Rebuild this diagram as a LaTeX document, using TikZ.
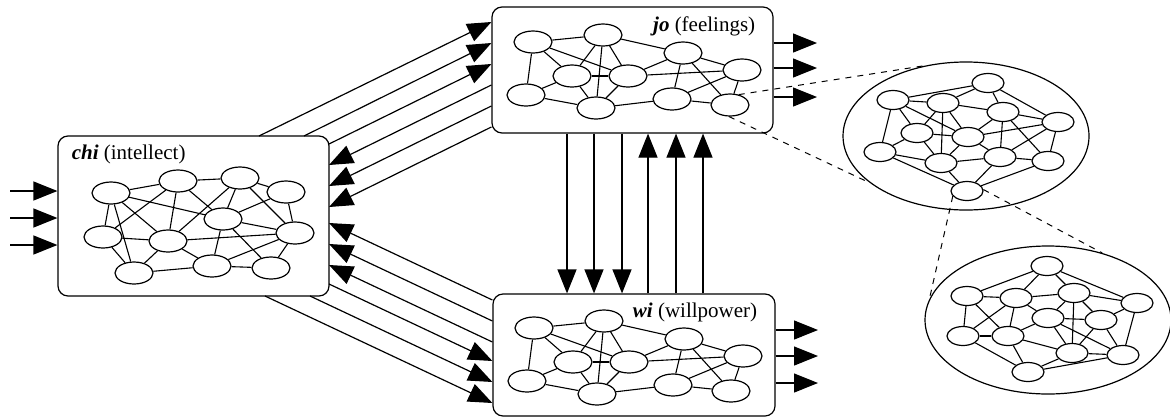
\documentclass[tikz,border=0pt]{standalone}
\usepackage{fontspec}
\setmainfont{Liberation Serif}
\usetikzlibrary{arrows.meta,shapes.geometric,fit,calc}

% one network, used for jo and for wi
\newcommand{\feelnet}[1]{%
  \foreach \n/\cx/\cy in {1/533/42, 2/603/35, 3/683/53, 4/572/76, 5/628/76,
      6/742/70, 7/526/95, 8/596/108, 9/672/99, 10/730/105}
    \node[cell] (#1\n) at (\cx,\cy) {};
  \foreach \a/\b in {1/2,1/7,1/4,1/5,2/4,2/8,2/5,2/3,4/5,4/7,4/8,5/8,5/3,5/6,
      3/9,3/10,3/6,6/9,6/10,7/8,8/9,9/10}
    \draw[link] (#1\a) -- (#1\b);
}

\begin{document}
\begin{tikzpicture}[
  x=0.5pt, y=-0.5pt,
  box/.style={draw, line width=0.6pt, rounded corners=5pt, inner sep=0pt},
  cell/.style={draw, ellipse, line width=0.6pt, minimum width=19pt,
    minimum height=11pt, inner sep=0pt},
  smallcell/.style={cell, minimum width=16pt, minimum height=9.5pt},
  ring/.style={draw, ellipse, line width=0.6pt, minimum width=123pt,
    minimum height=74pt, inner sep=0pt},
  link/.style={draw, line width=0.55pt},
  feed/.style={draw, line width=0.6pt, -{Triangle[length=12pt,width=9.5pt]}},
  zoomline/.style={draw, line width=0.5pt, dash pattern=on 3pt off 3pt},
  tag/.style={font=\fontsize{10.5}{12}\selectfont, inner sep=0pt}
]
\useasboundingbox (0,0) rectangle (1170,418);

%% ===================== Boxes =====================================
\node[box, fit={(58,136) (329,296)}] (chi) {};
\node[box, fit={(492,7) (773,133)}]  (jo)  {};
\node[box, fit={(493,294) (775,416)}] (wi) {};

\node[tag, anchor=west] at ($(chi.north west)+(14,19)$) {\textbf{\textit{chi}} (intellect)};
\node[tag, anchor=east] at ($(jo.north east)+(-18,20)$) {\textbf{\textit{jo}} (feelings)};
\node[tag, anchor=east] at ($(wi.north east)+(-18,19)$) {\textbf{\textit{wi}} (willpower)};

%% ===================== chi network ===============================
\foreach \n/\cx/\cy in {1/111/193, 2/178/181, 3/240/178, 4/286/192, 5/223/219,
    6/103/237, 7/168/241, 8/295/233, 9/134/273, 10/212/266, 11/271/268}
  \node[cell] (chi\n) at (\cx,\cy) {};
\foreach \a/\b in {1/2,2/3,3/4,1/6,1/9,1/7,1/5,2/6,2/7,2/5,3/7,3/5,3/8,4/5,4/8,
    5/8,5/10,5/11,6/7,6/9,7/9,7/8,7/10,8/10,8/11,9/10,10/11}
  \draw[link] (chi\a) -- (chi\b);

%% ===================== jo and wi networks ========================
\feelnet{jo}
\begin{scope}[shift={(1,286)}]
  \feelnet{wi}
\end{scope}

%% ===================== Inputs and outputs ========================
\foreach \i/\yy in {1/191, 2/218, 3/245} {
  \coordinate (in\i) at (10,\yy);
  \draw[feed] (in\i) -- (chi.west |- in\i);
}
\foreach \i/\yy in {1/43, 2/68, 3/97} {
  \coordinate (joout\i) at (817,\yy);
  \draw[feed] (jo.east |- joout\i) -- (joout\i);
}
\foreach \i/\yy in {1/330, 2/356, 3/383} {
  \coordinate (wiout\i) at (818,\yy);
  \draw[feed] (wi.east |- wiout\i) -- (wiout\i);
}

%% ===================== chi <-> jo ================================
\foreach \i/\ax/\ay/\by in {1/259/136/22, 2/304/136/43, 3/329/144/64} {
  \coordinate (cj\i) at (\ax,\ay);
  \draw[feed] (cj\i) -- (jo.west |- 0,\by);
}
\foreach \i/\ay/\by in {1/85/165, 2/106/186, 3/127/207} {
  \coordinate (jc\i) at (329,\by);
  \draw[feed] (jo.west |- 0,\ay) -- (jc\i);
}

%% ===================== chi <-> wi ================================
\foreach \i/\ay/\by in {1/300/223, 2/321/244, 3/342/265} {
  \coordinate (wc\i) at (329,\by);
  \draw[feed] (wi.west |- 0,\ay) -- (wc\i);
}
\foreach \i/\ax/\ay/\by in {1/329/284/361, 2/310/296/382, 3/265/296/403} {
  \coordinate (cw\i) at (\ax,\ay);
  \draw[feed] (cw\i) -- (wi.west |- 0,\by);
}

%% ===================== jo <-> wi =================================
\foreach \xx in {567, 594, 622}
  \draw[feed] (\xx,0 |- jo.south) -- (\xx,0 |- wi.north);
\foreach \xx in {648, 676, 703}
  \draw[feed] (\xx,0 |- wi.north) -- (\xx,0 |- jo.south);

%% ===================== Zoomed views ==============================
\node[ring] (ringA) at (966,136) {};
\foreach \n/\cx/\cy in {1/893/100, 2/943/103, 3/988/83, 4/1003/112, 5/1058/122,
    6/917/133, 7/968/137, 8/880/152, 9/941/163, 10/1000/157, 11/1048/161,
    12/967/191}
  \node[smallcell] (za\n) at (\cx,\cy) {};
\foreach \a/\b in {1/2,1/3,1/8,1/6,1/7,2/6,2/9,2/7,2/3,2/4,3/4,3/5,4/7,4/10,
    4/11,4/5,5/7,5/11,5/10,6/7,6/8,6/9,7/9,7/10,8/9,8/12,9/10,9/12,10/11,
    10/12,11/12}
  \draw[link] (za\a) -- (za\b);

\node[ring] (ringB) at (1048,320) {};
\foreach \n/\cx/\cy in {1/1047/266, 2/967/296, 3/1016/298, 4/1074/293,
    5/1137/303, 6/1048/318, 7/1101/320, 8/963/336, 9/1008/336, 10/1072/353,
    11/1123/355, 12/1028/372}
  \node[smallcell] (zb\n) at (\cx,\cy) {};
\foreach \a/\b in {1/2,1/3,1/4,1/5,2/3,2/8,2/9,3/4,3/8,3/9,3/6,4/5,4/6,4/10,
    4/7,5/7,5/11,6/7,6/9,6/10,7/10,7/11,6/11,8/9,8/12,9/10,9/12,10/11,10/12,
    11/12}
  \draw[link] (zb\a) -- (zb\b);

\draw[zoomline] (jo10.50)  -- (ringA.120);
\draw[zoomline] (jo10.265) -- (ringA.206);
\draw[zoomline] (za12.200) -- (ringB.170);
\draw[zoomline] (za12.5)   -- (ringB.51);

\end{tikzpicture}
\end{document}
